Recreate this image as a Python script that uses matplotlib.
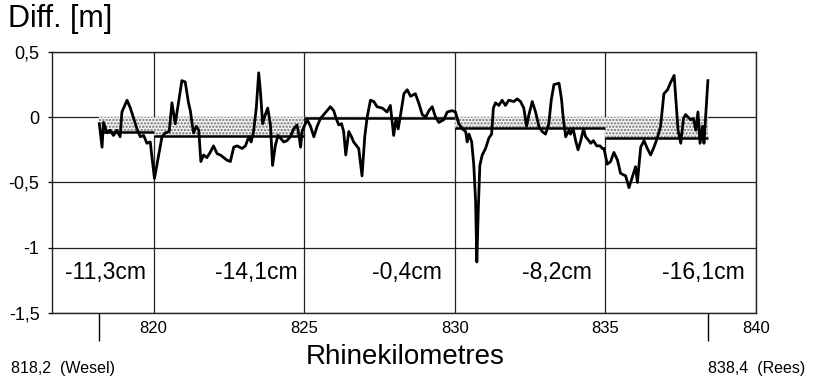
import matplotlib
matplotlib.use("Agg")
import matplotlib.pyplot as plt
import numpy as np

plt.rcParams['font.family'] = ['Liberation Sans', 'DejaVu Sans']
plt.rcParams['hatch.linewidth'] = 1.1

# Rhine kilometre positions of the profile
km = [818.20, 818.29, 818.34, 818.45, 818.56, 818.67, 818.78, 818.89, 818.95, 819.12,
      819.23, 819.34, 819.45, 819.56, 819.67, 819.78, 819.89, 820.03, 820.17, 820.28,
      820.39, 820.52, 820.61, 820.72, 820.94, 821.05, 821.16, 821.22, 821.28, 821.33,
      821.42, 821.50, 821.57, 821.66, 821.77, 821.88, 821.99, 822.11, 822.22, 822.33,
      822.44, 822.55, 822.66, 822.77, 822.94, 823.05, 823.16, 823.24, 823.32, 823.41,
      823.49, 823.55, 823.62, 823.71, 823.79, 823.88, 823.95, 824.04, 824.13, 824.21,
      824.32, 824.43, 824.54, 824.65, 824.76, 824.82, 824.88, 824.93, 825.02, 825.10,
      825.21, 825.32, 825.43, 825.54, 825.65, 825.76, 825.87, 825.98, 826.06, 826.15,
      826.24, 826.31, 826.38, 826.48, 826.57, 826.64, 826.81, 826.92, 827.01, 827.09,
      827.20, 827.31, 827.42, 827.59, 827.75, 827.86, 827.97, 828.05, 828.12, 828.20,
      828.31, 828.42, 828.53, 828.69, 828.80, 828.92, 829.03, 829.14, 829.25, 829.36,
      829.47, 829.63, 829.75, 829.91, 830.02, 830.13, 830.25, 830.36, 830.41, 830.47,
      830.56, 830.63, 830.69, 830.73, 830.78, 830.83, 830.91, 831.02, 831.13, 831.22,
      831.28, 831.35, 831.46, 831.57, 831.68, 831.79, 831.96, 832.07, 832.18, 832.29,
      832.38, 832.46, 832.57, 832.68, 832.79, 832.90, 833.01, 833.12, 833.20, 833.29,
      833.46, 833.54, 833.60, 833.68, 833.79, 833.84, 833.93, 834.01, 834.09, 834.18,
      834.27, 834.34, 834.45, 834.51, 834.60, 834.71, 834.82, 834.90, 834.95, 835.06,
      835.17, 835.28, 835.40, 835.50, 835.67, 835.78, 835.89, 836.00, 836.06, 836.17,
      836.28, 836.39, 836.50, 836.61, 836.72, 836.83, 836.94, 837.06, 837.17, 837.28,
      837.33, 837.41, 837.50, 837.59, 837.66, 837.74, 837.83, 837.92, 838.00, 838.07,
      838.14, 838.22, 838.27, 838.40]

# Height difference [m]
diff = [-0.05, -0.23, -0.04, -0.12, -0.10, -0.14, -0.10, -0.15, 0.04, 0.13,
        0.07, -0.01, -0.09, -0.15, -0.14, -0.20, -0.19, -0.47, -0.29, -0.15,
        -0.12, -0.11, 0.11, -0.05, 0.28, 0.27, 0.11, 0.05, -0.05, -0.12,
        -0.07, -0.10, -0.34, -0.29, -0.31, -0.27, -0.22, -0.28, -0.29, -0.31,
        -0.33, -0.34, -0.23, -0.22, -0.24, -0.22, -0.15, -0.19, -0.11, 0.07,
        0.34, 0.19, -0.05, 0.02, 0.07, -0.06, -0.37, -0.22, -0.14, -0.16,
        -0.19, -0.18, -0.15, -0.09, -0.06, -0.13, -0.23, -0.11, -0.06, -0.02,
        -0.07, -0.15, -0.07, -0.01, 0.02, 0.05, 0.08, 0.05, -0.01, -0.06,
        -0.05, -0.11, -0.29, -0.11, -0.15, -0.19, -0.24, -0.45, -0.15, 0.00,
        0.13, 0.12, 0.08, 0.07, 0.04, 0.09, -0.14, -0.01, -0.09, 0.02,
        0.18, 0.21, 0.16, 0.18, 0.11, 0.02, 0.00, 0.05, 0.08, 0.00,
        -0.04, -0.02, 0.04, 0.05, 0.04, -0.05, -0.09, -0.11, -0.19, -0.13,
        -0.19, -0.37, -0.65, -1.11, -0.70, -0.37, -0.29, -0.24, -0.16, -0.13,
        0.07, 0.11, 0.09, 0.13, 0.09, 0.13, 0.12, 0.14, 0.12, 0.07,
        -0.07, 0.02, 0.12, 0.04, -0.07, -0.11, -0.13, -0.05, 0.13, 0.25,
        0.26, 0.14, -0.01, -0.15, -0.10, -0.13, -0.09, -0.18, -0.25, -0.18,
        -0.09, -0.15, -0.18, -0.20, -0.18, -0.22, -0.22, -0.24, -0.24, -0.36,
        -0.34, -0.27, -0.33, -0.43, -0.45, -0.54, -0.46, -0.38, -0.50, -0.23,
        -0.18, -0.24, -0.29, -0.23, -0.16, -0.07, 0.18, 0.21, 0.27, 0.32,
        0.16, -0.10, -0.20, -0.01, 0.02, 0.00, -0.02, -0.01, -0.10, 0.04,
        -0.20, -0.07, -0.20, 0.28]

# Section boundaries and mean differences
seg_start = [818.2, 820.0, 825.0, 830.0, 835.0]
seg_end = [820.0, 825.0, 830.0, 835.0, 838.4]
seg_mean = [-0.113, -0.141, -0.004, -0.082, -0.161]
seg_labels = ['-11,3cm', '-14,1cm', '-0,4cm', '-8,2cm', '-16,1cm']
seg_label_x = [818.4, 823.4, 828.4, 833.4, 838.25]

xticks = [820, 825, 830, 835, 840]
yticks = [-1.5, -1.0, -0.5, 0.0, 0.5]
ytick_labels = ['-1,5', '-1', '-0,5', '0', '0,5']
end_ticks = [818.2, 838.4]

fig = plt.figure(figsize=(8.13, 3.82), dpi=100)
ax = fig.add_axes([0.064, 0.181, 0.866, 0.683])
ax.set_xlim(816.63, 840)
ax.set_ylim(-1.5, 0.5)

for s, e, m in zip(seg_start, seg_end, seg_mean):
    ax.fill_between([s, e], [m, m], [0, 0], facecolor='#f4f4f4',
                    edgecolor='#6e6e6e', hatch='.....', linewidth=0, zorder=1)
    ax.plot([s, e], [m, m], color='black', lw=1.8, zorder=3, solid_capstyle='butt')

ax.grid(True, color='#222222', lw=0.9, zorder=0)
ax.set_axisbelow(True)
ax.plot(km, diff, color='black', lw=2.0, zorder=4)

for x, t in zip(seg_label_x, seg_labels):
    ax.text(x, -1.19, t, ha='center', va='center', fontsize=16.5)

ax.set_xticks(xticks)
ax.set_xticklabels([str(v) for v in xticks], fontsize=12)
ax.set_xticks(end_ticks, minor=True)
ax.tick_params(axis='x', which='major', length=0, pad=6)
ax.tick_params(axis='x', which='minor', length=20, width=1.0, direction='out')
ax.set_yticks(yticks)
ax.set_yticklabels(ytick_labels, fontsize=13)
ax.tick_params(axis='y', which='major', length=3, width=0.9, pad=6)
for sp in ax.spines.values():
    sp.set_linewidth(1.0)
    sp.set_color('#222222')

fig.text(0.010, 0.950, 'Diff. [m]', fontsize=22, ha='left', va='center')
fig.text(0.498, 0.066, 'Rhinekilometres', fontsize=20, ha='center', va='center')
fig.text(0.013, 0.035, '818,2  (Wesel)', fontsize=11.5, ha='left', va='center')
fig.text(0.990, 0.035, '838,4  (Rees)', fontsize=11.5, ha='right', va='center')

fig.savefig('out.png', dpi=100)
